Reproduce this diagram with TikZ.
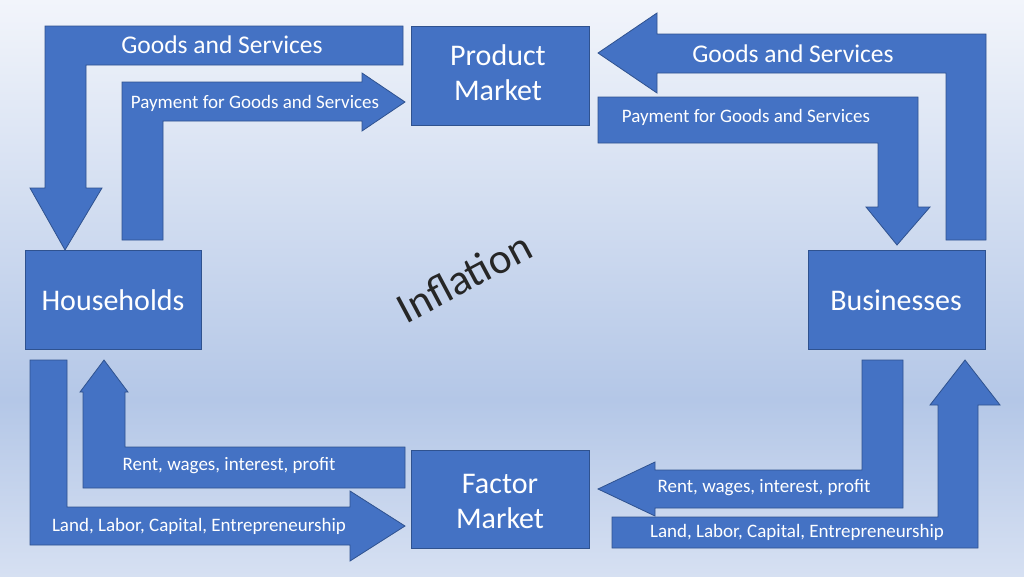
\documentclass[tikz,border=0pt]{standalone}
\usepackage{fontspec}
\setmainfont{Carlito}
\definecolor{fillb}{HTML}{4472C4}
\definecolor{edgeb}{HTML}{2F528F}
\definecolor{bgtop}{HTML}{F2F5FB}
\definecolor{bgmid}{HTML}{B4C7E7}
\definecolor{bgbot}{HTML}{D6E0F2}
\begin{document}
\begin{tikzpicture}[x=1pt,y=-1pt,
  shp/.style={fill=fillb,draw=edgeb,line width=0.8pt},
  boxn/.style={shp,anchor=north west,inner sep=0pt},
  lbl/.style={text=white,font=\fontsize{25.5}{28}\selectfont},
  slbl/.style={text=white,font=\fontsize{19}{22}\selectfont}]
\useasboundingbox (0,0) rectangle (1024,576);
\shade[top color=bgtop,bottom color=bgmid] (0,0) rectangle (1024,400);
\shade[top color=bgmid,bottom color=bgbot] (0,400) rectangle (1024,576);
% arrows
\draw[shp] (403,26)--(45,26)--(45,188)--(30,188)--(65,250)--(102,188)--(86,188)--(86,65)--(403,65)--cycle;
\draw[shp] (122,240)--(122,82)--(362,82)--(362,73)--(405,102)--(362,131)--(362,121)--(163,121)--(163,240)--cycle;
\draw[shp] (598,53)--(657,13)--(657,34)--(986,34)--(986,240)--(946,240)--(946,73)--(657,73)--(657,93)--cycle;
\draw[shp] (598,97)--(918,97)--(918,207)--(930,207)--(897,245)--(866,207)--(878,207)--(878,143)--(598,143)--cycle;
\draw[shp] (104,360)--(128,392)--(125,392)--(125,447)--(405,447)--(405,488)--(83,488)--(83,392)--(80,392)--cycle;
\draw[shp] (30,360)--(67,360)--(67,507)--(350,507)--(350,491)--(405,526)--(350,561)--(350,545)--(30,545)--cycle;
\draw[shp] (903,360)--(862,360)--(862,470)--(655,470)--(655,462)--(598,489)--(655,516)--(655,508)--(903,508)--cycle;
\draw[shp] (612,517)--(938,517)--(938,405)--(930,405)--(965,360)--(1000,405)--(978,405)--(978,548)--(612,548)--cycle;
% boxes
\node[boxn,minimum width=178pt,minimum height=99pt] (pm) at (411,26) {};
\node[text=white,font=\fontsize{30}{35}\selectfont,align=center] (pmt) at (498,73) {Product\\Market};
\node[boxn,minimum width=176pt,minimum height=99pt] (hh) at (25,250) {};
\node[text=white,font=\fontsize{30}{34}\selectfont] (hht) at (113,300) {Households};
\node[boxn,minimum width=177pt,minimum height=99pt] (bz) at (808,250) {};
\node[text=white,font=\fontsize{30}{34}\selectfont] (bzt) at (896,300) {Businesses};
\node[boxn,minimum width=178pt,minimum height=98pt] (fm) at (411,450) {};
\node[text=white,font=\fontsize{30}{35}\selectfont,align=center] (fmt) at (500,501) {Factor\\Market};
% labels
\node[lbl] (l1) at (222,45) {Goods and Services};
\node[slbl] (l2) at (255,103) {Payment for Goods and Services};
\node[lbl] (l3) at (793,54) {Goods and Services};
\node[slbl] (l4) at (746,117) {Payment for Goods and Services};
\node[slbl] (l5) at (229,466) {Rent, wages, interest, profit};
\node[slbl] (l6) at (199,526) {Land, Labor, Capital, Entrepreneurship};
\node[slbl] (l7) at (764,488) {Rent, wages, interest, profit};
\node[slbl] (l8) at (797,532) {Land, Labor, Capital, Entrepreneurship};
\node[rotate=28,text=black!85,font=\fontsize{43}{46}\selectfont] (inf) at (464,277) {Inflation};
\end{tikzpicture}
\end{document}
